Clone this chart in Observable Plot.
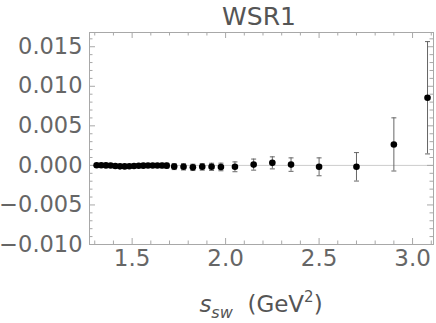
<!DOCTYPE html>
<html><head><meta charset="utf-8">
<script src="https://cdn.jsdelivr.net/npm/d3@7"></script>
<script src="https://cdn.jsdelivr.net/npm/@observablehq/plot@0.6"></script>
<style>body{margin:0;background:#fff;}</style>
</head><body><div id="chart"></div>
<script>
const sValues = [1.31,1.335,1.36,1.385,1.41,1.435,1.46,1.485,1.51,1.535,1.56,1.585,1.61,1.635,1.66,1.685,1.725,1.775,1.825,1.875,1.925,1.975,2.05,2.15,2.25,2.35,2.5,2.7,2.9,3.08];
const wsr1 = [0.00002,0.00001,0.00000,-0.00002,-0.00008,-0.00012,-0.00013,-0.00011,-0.00008,-0.00005,-0.00003,-0.00002,-0.00002,-0.00002,-0.00002,-0.00003,-0.00015,-0.00018,-0.00025,-0.00018,-0.00018,-0.00020,-0.00018,0.00010,0.00032,0.00010,-0.00018,-0.00018,0.00265,0.00855];
const errors = [0.00005,0.00006,0.00007,0.00008,0.00009,0.0001,0.00011,0.00012,0.00013,0.00015,0.00017,0.0002,0.00022,0.00025,0.00028,0.0003,0.00038,0.0004,0.0004,0.00042,0.00045,0.00048,0.00062,0.0007,0.00076,0.00085,0.00113,0.0018,0.00336,0.0071];
const xMajorTicks = [1.5,2.0,2.5,3.0];
const xMinorTicks = [1.3,1.4,1.6,1.7,1.8,1.9,2.1,2.2,2.3,2.4,2.6,2.7,2.8,2.9,3.1];
const yMajorTicks = [-0.010,-0.005,0,0.005,0.010,0.015];
const yMinorTicks = [-0.009,-0.008,-0.007,-0.006,-0.004,-0.003,-0.002,-0.001,0.001,0.002,0.003,0.004,0.006,0.007,0.008,0.009,0.011,0.012,0.013,0.014,0.016];
const titleText = "WSR1";

const W = 436, H = 323, mL = 89, mR = 3, mT = 32, mB = 79;
const innerW = W - mL - mR, innerH = H - mT - mB;
const frameColor = "#a8a8a8", textColor = "#666666";
const rows = sValues.map((s, i) => ({s, v: wsr1[i], lo: wsr1[i] - errors[i], hi: wsr1[i] + errors[i]}));
const cap = {draw(ctx) { ctx.moveTo(-2.5, 0); ctx.lineTo(2.5, 0); }};
const major = 6, minor = 3.5;

const plot = Plot.plot({
  width: W, height: H,
  marginLeft: mL, marginRight: mR, marginTop: mT, marginBottom: mB,
  style: {fontFamily: "DejaVu Sans", color: textColor, background: "white"},
  x: {domain: [1.272, 3.112]},
  y: {domain: [-0.0100, 0.0168]},
  marks: [
    Plot.ruleY([0], {stroke: "#cccccc", strokeWidth: 1}),
    Plot.frame({stroke: frameColor}),
    Plot.ruleX(xMajorTicks, {stroke: frameColor, insetTop: innerH - major}),
    Plot.ruleX(xMinorTicks, {stroke: frameColor, insetTop: innerH - minor}),
    Plot.ruleX(xMajorTicks, {stroke: frameColor, insetBottom: innerH - major}),
    Plot.ruleX(xMinorTicks, {stroke: frameColor, insetBottom: innerH - minor}),
    Plot.ruleY(yMajorTicks, {stroke: frameColor, insetRight: innerW - major}),
    Plot.ruleY(yMinorTicks, {stroke: frameColor, insetRight: innerW - minor}),
    Plot.ruleY(yMajorTicks, {stroke: frameColor, insetLeft: innerW - major}),
    Plot.ruleY(yMinorTicks, {stroke: frameColor, insetLeft: innerW - minor}),
    Plot.axisX(xMajorTicks, {anchor: "bottom", tickSize: 0, tickPadding: 5, tickFormat: d3.format(".1f"), label: null, fontSize: 23}),
    Plot.axisY(yMajorTicks, {anchor: "left", tickSize: 0, tickPadding: 7, tickFormat: d3.format(".3f"), label: null, fontSize: 22.5}),
    Plot.ruleX(rows, {x: "s", y1: "lo", y2: "hi", stroke: "#666666", strokeWidth: 1}),
    Plot.dot(rows, {x: "s", y: "lo", symbol: cap, r: 1, stroke: "#666666", strokeWidth: 1}),
    Plot.dot(rows, {x: "s", y: "hi", symbol: cap, r: 1, stroke: "#666666", strokeWidth: 1}),
    Plot.dot(rows, {x: "s", y: "v", r: 3.3, fill: "black", stroke: "none"})
  ]
});
document.getElementById("chart").append(plot);

const svg = d3.select(plot);
const cx = mL + innerW / 2;
svg.append("text").attr("x", cx - 2).attr("y", 25).attr("text-anchor", "middle")
  .attr("font-family", "DejaVu Sans").attr("font-size", 25).attr("fill", "#555").text(titleText);
const lab = svg.append("text").attr("x", cx).attr("y", 312).attr("text-anchor", "middle")
  .attr("font-family", "DejaVu Sans").attr("font-size", 23).attr("fill", "#555");
lab.append("tspan").attr("font-style", "italic").text("s");
lab.append("tspan").attr("font-style", "italic").attr("font-size", 16).attr("dy", 6).text("sw");
lab.append("tspan").attr("dy", -6).text("\u00a0\u00a0(GeV");
lab.append("tspan").attr("font-size", 15).attr("dy", -10).text("2");
lab.append("tspan").attr("dy", 10).text(")");
</script></body></html>
